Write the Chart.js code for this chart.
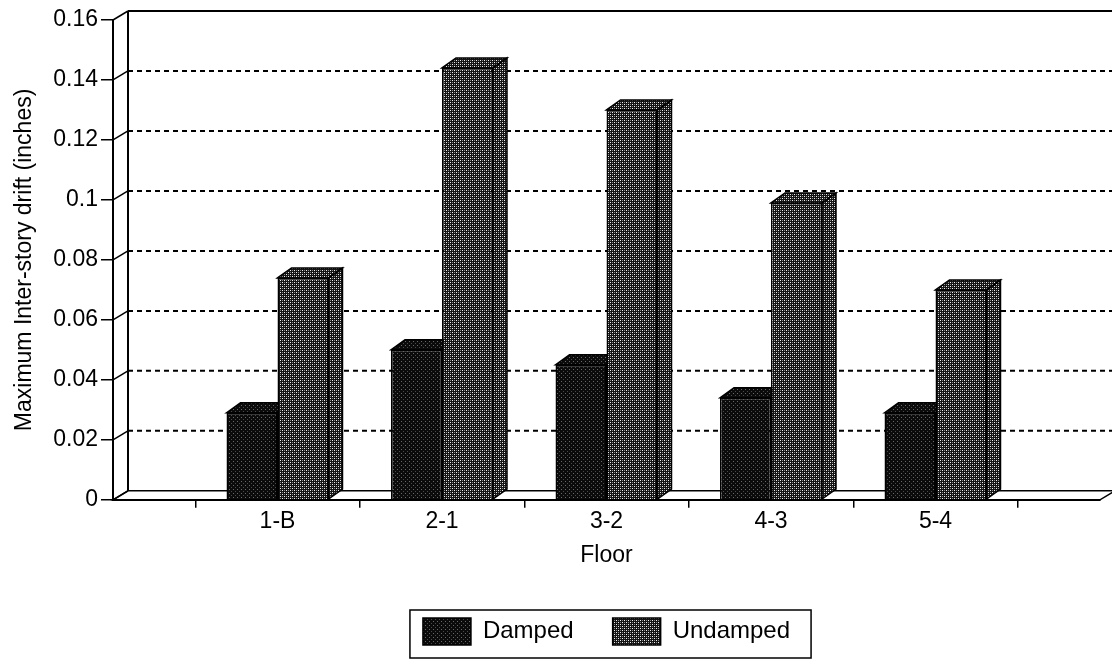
<!DOCTYPE html>
<html>
<head>
<meta charset="utf-8">
<script src="https://cdn.jsdelivr.net/npm/chart.js@4"></script>
<style>
    html, body { margin: 0; padding: 0; background: #fff; }
    #wrap { width: 1112px; height: 660px; }
</style>
</head>
<body>
<div id="wrap"><canvas id="driftChart" width="1112" height="660"></canvas></div>
<script>
// Данные графика
const FLOORS   = ['1-B', '2-1', '3-2', '4-3', '5-4'];
const DAMPED   = [0.029, 0.050, 0.045, 0.034, 0.029];
const UNDAMPED = [0.074, 0.144, 0.130, 0.099, 0.070];
const Y_TICKS  = [0, 0.02, 0.04, 0.06, 0.08, 0.1, 0.12, 0.14, 0.16];
const Y_LABELS = ['0', '0.02', '0.04', '0.06', '0.08', '0.1', '0.12', '0.14', '0.16'];

// пустые места по краям оси, как в оригинале
const labels = ['', ...FLOORS, ''];
const padded = arr => [null, ...arr, null];

// глубина "3D"
const WALL = { dx: 15, dy: 9 };
const BAR  = { dx: 14, dy: 10 };

Chart.defaults.font.family = '"Liberation Sans", Arial, sans-serif';
Chart.defaults.color = '#000';

// штриховка в духе старой печати
function halftone(base, dots) {
    const c = document.createElement('canvas');
    c.width = 4; c.height = 4;
    const g = c.getContext('2d');
    g.fillStyle = base;
    g.fillRect(0, 0, 4, 4);
    dots.forEach(([x, y, col]) => { g.fillStyle = col; g.fillRect(x, y, 1, 1); });
    return g.createPattern(c, 'repeat');
}

const darkFill = halftone('#0b0b0b', [[1, 1, '#6a6a6a'], [3, 3, '#4a4a4a']]);
const greyFill = halftone('#141414', [[0, 0, '#f0f0f0'], [2, 2, '#f0f0f0'], [2, 0, '#8a8a8a'], [0, 2, '#8a8a8a']]);

function line(ctx, x1, y1, x2, y2) {
    ctx.beginPath();
    ctx.moveTo(x1, y1);
    ctx.lineTo(x2, y2);
    ctx.stroke();
}

function poly(ctx, pts, fill) {
    ctx.beginPath();
    ctx.moveTo(pts[0][0], pts[0][1]);
    pts.slice(1).forEach(p => ctx.lineTo(p[0], p[1]));
    ctx.closePath();
    ctx.fillStyle = fill;
    ctx.fill();
    ctx.stroke();
}

// задняя стенка, пол, грани столбиков
const backdrop3d = {
    id: 'backdrop3d',
    beforeDatasetsDraw(chart) {
        const { ctx, chartArea: a, scales: { y } } = chart;
        ctx.save();
        ctx.strokeStyle = '#000';

        // пол
        ctx.lineWidth = 1.5;
        poly(ctx, [
            [a.left, a.bottom], [a.left + WALL.dx, a.bottom - WALL.dy],
            [a.right + WALL.dx, a.bottom - WALL.dy], [a.right, a.bottom],
        ], '#fff');

        // стенка и верхняя кромка
        ctx.lineWidth = 2;
        const topY = y.getPixelForValue(y.max) - WALL.dy;
        line(ctx, a.left + WALL.dx, topY, a.left + WALL.dx, a.bottom - WALL.dy);
        line(ctx, a.left + WALL.dx, topY, a.right + WALL.dx + 12, topY);

        // связки от передней оси к стенке
        ctx.lineWidth = 1.5;
        Y_TICKS.forEach(v => {
            const py = y.getPixelForValue(v);
            line(ctx, a.left, py, a.left + WALL.dx, py - WALL.dy);
        });

        // пунктирная сетка
        ctx.lineWidth = 2;
        ctx.setLineDash([5, 4]);
        Y_TICKS.slice(1, -1).forEach(v => {
            const py = y.getPixelForValue(v) - WALL.dy;
            line(ctx, a.left + WALL.dx, py, a.right + WALL.dx + 12, py);
        });
        ctx.setLineDash([]);

        // боковые грани и крышки
        ctx.lineWidth = 1.5;
        chart.data.datasets.forEach((ds, i) => {
            chart.getDatasetMeta(i).data.forEach((bar, j) => {
                if (ds.data[j] == null) return;
                const { x, y: top, base, width } = bar.getProps(['x', 'y', 'base', 'width'], true);
                const l = x - width / 2, r = x + width / 2;
                poly(ctx, [[r, top], [r + BAR.dx, top - BAR.dy], [r + BAR.dx, base - BAR.dy], [r, base]], ds.backgroundColor);
                poly(ctx, [[l, top], [l + BAR.dx, top - BAR.dy], [r + BAR.dx, top - BAR.dy], [r, top]], ds.backgroundColor);
            });
        });
        ctx.restore();
    },
    afterDraw(chart) {
        // рамка легенды
        const hb = chart.legend?.legendHitBoxes;
        if (!hb?.length) return;
        const last = hb[hb.length - 1];
        const { ctx } = chart;
        ctx.save();
        ctx.strokeStyle = '#000';
        ctx.lineWidth = 1.5;
        const left = hb[0].left - 13;
        ctx.strokeRect(left, hb[0].top - 8, last.left + last.width + 21 - left, hb[0].height + 21);
        ctx.restore();
    },
};

new Chart(document.getElementById('driftChart'), {
    type: 'bar',
    data: {
        labels,
        datasets: [
            {
                label: 'Damped',
                data: padded(DAMPED),
                backgroundColor: darkFill,
                borderColor: '#000',
                borderWidth: 1.5,
                categoryPercentage: 0.62,
                barPercentage: 1,
            },
            {
                label: 'Undamped',
                data: padded(UNDAMPED),
                backgroundColor: greyFill,
                borderColor: '#000',
                borderWidth: 1.5,
                categoryPercentage: 0.62,
                barPercentage: 1,
            },
        ],
    },
    options: {
        responsive: false,
        animation: false,
        layout: { padding: { top: 20, right: 12, bottom: 5, left: 0 } },
        plugins: {
            tooltip: { enabled: false },
            legend: {
                position: 'bottom',
                fullSize: false,
                labels: {
                    boxWidth: 48,
                    boxHeight: 27,
                    padding: 39,
                    color: '#000',
                    font: { size: 24 },
                },
            },
        },
        scales: {
            x: {
                offset: false,
                grid: {
                    offset: true,
                    drawOnChartArea: false,
                    color: '#000',
                    lineWidth: 1.5,
                    tickLength: 8,
                },
                border: { color: '#000', width: 2 },
                ticks: { padding: 0, font: { size: 23 }, color: '#000', autoSkip: false, maxRotation: 0 },
                title: {
                    display: true,
                    text: 'Floor',
                    color: '#000',
                    font: { size: 23 },
                    padding: { top: 6, bottom: 10 },
                },
            },
            y: {
                min: 0,
                max: 0.16,
                afterBuildTicks: s => { s.ticks = Y_TICKS.map(v => ({ value: v })); },
                afterFit: s => { s.width = 113; },
                grid: {
                    drawOnChartArea: false,
                    color: '#000',
                    lineWidth: 1.5,
                    tickLength: 12,
                },
                border: { color: '#000', width: 2 },
                ticks: {
                    padding: 3,
                    font: { size: 23 },
                    color: '#000',
                    callback: (v, i) => Y_LABELS[i],
                },
                title: {
                    display: true,
                    text: 'Maximum Inter-story drift (inches)',
                    color: '#000',
                    font: { size: 23 },
                    padding: { top: 11, bottom: 0 },
                },
            },
        },
    },
    plugins: [backdrop3d],
});
</script>
</body>
</html>
